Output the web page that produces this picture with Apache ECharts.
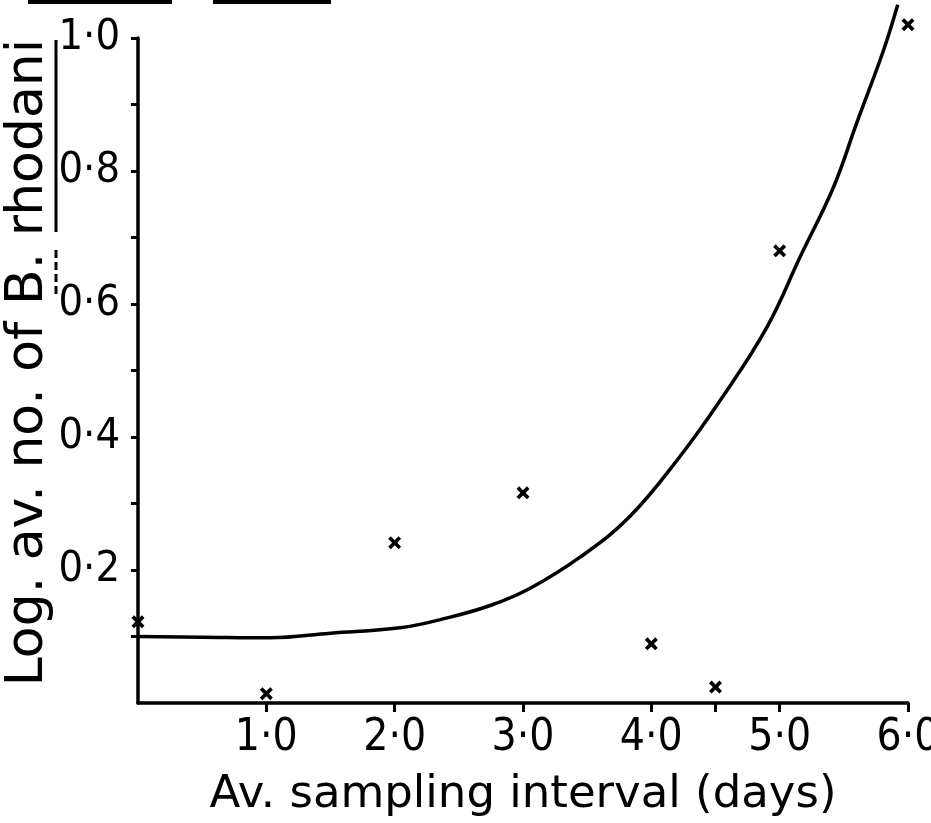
<!DOCTYPE html>
<html><head><meta charset="utf-8">
<script src="https://cdn.jsdelivr.net/npm/echarts@6/dist/echarts.min.js"></script>
<style>html,body{margin:0;padding:0;background:#fff}#c{width:931px;height:823px}</style>
</head><body><div id="c"></div>
<script>
// Observed samples (crosses)
const sampleX = [0, 1.0, 2.0, 3.0, 4.0, 4.5, 5.0, 6.0];
const sampleY = [0.122, 0.014, 0.241, 0.316, 0.089, 0.024, 0.68, 1.02];
// Fitted curve
const curveX = [0, 0.5, 1.03, 1.5, 2.04, 2.41, 2.75, 3.06, 3.45, 3.83, 4.22, 4.54, 4.90, 5.16, 5.42, 5.60, 5.81, 5.92];
const curveY = [0.100, 0.099, 0.098, 0.105, 0.113, 0.128, 0.147, 0.173, 0.220, 0.280, 0.370, 0.456, 0.565, 0.671, 0.776, 0.872, 0.982, 1.05];
// Axis ticks and labels
const xTickValues = [1, 2, 3, 4, 4.5, 5, 6];
const xLabelValues = [1, 2, 3, 4, 5, 6];
const yTickValues = [0.1, 0.2, 0.3, 0.4, 0.5, 0.6, 0.7, 0.8, 0.9, 1.0];
const yLabelValues = [0.2, 0.4, 0.6, 0.8, 1.0];
const xTitle = 'Av. sampling interval (days)';
const yTitle = 'Log. av. no. of B. rhodani';

const fmt = v => Number(v).toFixed(1).replace('.', '\u00B7');
const labelFont = "'Liberation Sans Narrow','DejaVu Sans Condensed','Liberation Sans',sans-serif";
const titleFont = "'DejaVu Sans',sans-serif";
const crossPath = 'path://M2,0 L5,3 L8,0 L10,2 L7,5 L10,8 L8,10 L5,7 L2,10 L0,8 L3,5 L0,2 Z';

const chart = echarts.init(document.getElementById('c'), null, {renderer: 'canvas'});
chart.setOption({
  backgroundColor: '#fff',
  animation: false,
  grid: {left: 138, right: 23, top: 38, bottom: 120, containLabel: false, outerBoundsMode: 'none'},
  xAxis: {
    type: 'value', min: 0, max: 6,
    name: xTitle, nameLocation: 'middle', nameGap: 70, nameMoveOverlap: false,
    nameTextStyle: {fontFamily: titleFont, fontSize: 45, color: '#000'},
    axisLine: {show: true, lineStyle: {color: '#000', width: 3.5}},
    axisTick: {show: true, customValues: xTickValues, length: 9, lineStyle: {color: '#000', width: 3}},
    axisLabel: {customValues: xLabelValues, formatter: fmt, margin: 14, fontFamily: labelFont, fontSize: 44, color: '#000'},
    splitLine: {show: false}
  },
  yAxis: {
    type: 'value', min: 0, max: 1.0,
    name: yTitle, nameLocation: 'middle', nameGap: 84, nameRotate: 90, nameMoveOverlap: false,
    nameTextStyle: {fontFamily: titleFont, fontSize: 52, color: '#000', padding: [0, 0, 0, 16]},
    axisLine: {show: true, lineStyle: {color: '#000', width: 3.5}},
    axisTick: {show: true, customValues: yTickValues, length: 7, lineStyle: {color: '#000', width: 3}},
    axisLabel: {customValues: yLabelValues, formatter: fmt, margin: 18, fontFamily: labelFont, fontSize: 43, color: '#000'},
    splitLine: {show: false}
  },
  graphic: [
    {type: 'rect', shape: {x: 28, y: 0, width: 144, height: 4}, style: {fill: '#000'}},
    {type: 'rect', shape: {x: 213, y: 0, width: 118, height: 4}, style: {fill: '#000'}},
    {type: 'line', shape: {x1: 56, y1: 40, x2: 56, y2: 232}, style: {stroke: '#000', lineWidth: 3}},
    {type: 'line', shape: {x1: 56, y1: 250, x2: 56, y2: 296}, style: {stroke: '#000', lineWidth: 3, lineDash: [8, 4]}}
  ],
  series: [
    {
      type: 'line', data: curveX.map((x, i) => [x, curveY[i]]),
      smooth: 0.4, showSymbol: false, clip: false,
      lineStyle: {color: '#000', width: 3.5}
    },
    {
      type: 'scatter', data: sampleX.map((x, i) => [x, sampleY[i]]),
      symbol: crossPath, symbolSize: 13, clip: false,
      itemStyle: {color: '#000', opacity: 1}
    }
  ]
});
</script>
</body></html>
